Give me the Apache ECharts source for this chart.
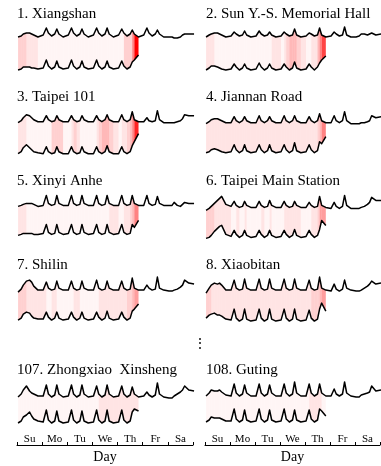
<!DOCTYPE html>
<html><head><meta charset="utf-8">
<script src="https://cdn.jsdelivr.net/npm/echarts@6/dist/echarts.min.js"></script>
<style>html,body{margin:0;padding:0;background:#fff}#c{width:381px;height:466px}</style>
</head><body><div id="c"></div>
<script>
const dayLabels = ['Su','Mo','Tu','We','Th','Fr','Sa'];
const sampleHours = [1, 4, 6, 9, 12, 14, 16, 20];
const stationNames = ['1. Xiangshan','2. Sun Y.-S. Memorial Hall','3. Taipei 101','4. Jiannan Road','5. Xinyi Anhe','6. Taipei Main Station','7. Shilin','8. Xiaobitan','107. Zhongxiao  Xinsheng','108. Guting'];

// top trace: Su..Sa (8 samples per day) + closing point; bottom trace: Su..Th
const xiangshanTop = [3,4,6,7,7,6,5,3, 5,12,7,4,6,11,6,3, 5,12,7,4,6,11,6,3, 5,12,7,4,6,12,6,3, 5,11,7,4,6,10,6,3, 5,12,7,4,6,10,6,3, 3,3,2,2,3,5,6,6, 6];
const xiangshanBottom = [2,3,5,5,5,4,4,3, 4,12,6,3,5,11,5,3, 4,12,6,3,5,11,5,3, 4,12,6,3,5,11,5,3, 4,11,6,3,5,10,12,17];
const xiangshanWeight = [3,3,3,2,2,2,2,1, 1,1,1,1,1,1,1,1, 1,1,1,1,1,1,1,1, 1,1,1,1,1,1,1,1, 1,1,3,3,3,6,10];

const sunYatSenTop = [3,5,6,7,7,6,5,3, 4,8,6,4,5,9,5,3, 4,9,6,4,5,8,5,3, 4,8,6,4,5,11,5,3, 4,7,6,4,5,12,5,3, 4,8,6,4,5,13,5,3, 3,4,6,6,5,6,7,5, 6];
const sunYatSenBottom = [2,4,6,6,5,4,3,2, 3,8,5,2,4,8,4,2, 3,9,5,2,4,8,4,2, 3,8,5,2,4,10,4,2, 3,8,5,2,5,9,12,16];
const sunYatSenWeight = [2,2,2,1,1,1,1,1, 1,1,1,1,1,1,1,1, 1,1,1,1,1,1,2,2, 1,2,3,4,4,4,3,2, 1,1,2,2,4,6,8];

const taipei101Top = [1,3,6,9,8,6,4,2, 2,8,4,2,3,8,4,2, 2,8,4,2,3,8,4,2, 2,8,4,2,4,9,4,2, 2,9,4,2,4,12,4,2, 2,6,3,2,3,13,4,1, 1,1,1,2,3,5,9,8, 8];
const taipei101Bottom = [2,4,8,11,8,6,4,3, 2,9,4,2,3,9,4,2, 2,9,4,2,3,9,4,2, 2,9,4,2,4,10,4,2, 2,9,4,2,4,10,14,22];
const taipei101Weight = [2,2,2,1,1,1,1,1, 1,1,1,3,3,3,3,1, 1,2,3,2,1,1,1,1, 1,2,3,4,4,4,3,2, 1,2,2,3,4,6,9];

const jiannanTop = [0,2,4,5,5,4,3,1, 1,7,3,1,3,7,3,1, 1,8,3,1,3,7,3,1, 1,8,3,1,3,8,3,1, 1,7,3,1,3,10,3,1, 1,8,3,1,3,12,3,0, 0,0,1,1,2,3,8,6, 7];
const jiannanBottom = [3,4,6,7,6,5,4,3, 4,11,6,3,5,11,5,3, 4,11,6,3,5,11,5,3, 4,11,6,3,5,13,5,3, 4,11,6,3,5,14,12,19];
const jiannanWeight = [2,2,2,2,2,2,2,2, 2,2,2,2,2,2,2,2, 2,2,2,2,2,2,2,2, 2,2,2,2,2,2,2,2, 2,2,2,2,3,4,6];

const xinyiAnheTop = [1,2,3,4,4,4,3,1, 2,12,4,2,3,12,4,2, 2,12,4,2,3,12,4,2, 2,12,4,2,3,12,4,2, 2,12,4,2,3,12,4,2, 2,12,4,2,3,11,4,2, 2,2,5,2,1,3,5,4, 4];
const xinyiAnheBottom = [4,5,6,6,6,6,5,5, 6,15,7,5,6,15,7,5, 6,15,7,5,6,15,7,5, 6,15,7,5,6,15,7,5, 6,15,7,5,6,15,12,19];
const xinyiAnheWeight = [2,2,2,1,1,1,1,1, 1,1,1,1,1,1,1,1, 1,1,1,1,1,1,1,1, 1,1,1,1,1,1,2,2, 1,1,2,2,3,4,6];

const mainStationTop = [-3,-1,1,4,7,9,11,3, 1,6,2,0,1,6,2,0, 0,6,2,0,1,7,2,0, 0,6,2,0,1,6,2,0, 0,5,2,0,1,11,2,0, -1,5,1,-1,1,12,2,-1, -1,-1,0,1,3,5,10,7, 7];
const mainStationBottom = [1,2,4,8,11,13,14,5, 3,9,5,2,4,9,4,2, 3,9,5,2,4,9,4,2, 3,9,5,2,4,10,4,2, 3,9,5,2,4,10,19,14];
const mainStationWeight = [3,3,3,2,2,2,2,2, 1,1,2,1,1,2,1,1, 1,1,2,1,1,2,1,1, 1,2,2,2,2,2,2,1, 1,1,2,2,3,5,5];

const shilinTop = [-1,2,6,10,11,9,5,1, 1,9,3,1,2,10,3,1, 1,10,3,1,2,10,3,1, 1,11,3,1,2,10,3,1, 1,10,3,1,2,13,3,1, 1,6,3,1,2,14,3,1, 0,0,1,2,4,6,11,8, 7];
const shilinBottom = [3,5,9,11,10,7,5,4, 4,11,6,3,5,11,5,3, 4,11,6,3,5,11,5,3, 4,11,6,3,5,12,5,3, 4,11,6,3,5,12,14,19];
const shilinWeight = [3,3,3,2,2,2,2,2, 2,1,1,2,2,1,1,1, 1,1,2,2,1,1,1,1, 1,1,2,2,2,2,2,2, 2,2,2,3,3,4,5];

const xiaobitanTop = [-2,3,6,8,7,8,6,1, 1,11,3,1,2,12,3,1, 1,12,3,1,2,12,3,1, 1,12,3,1,2,12,3,1, 1,11,3,1,2,14,3,1, 0,7,2,0,2,11,3,1, 0,0,1,3,5,7,10,7, 8];
const xiaobitanBottom = [5,8,9,10,8,8,7,4, 3,14,5,2,4,14,4,2, 3,14,5,2,4,14,4,2, 3,14,5,2,4,14,4,2, 3,13,5,2,4,14,20,12];
const xiaobitanWeight = [3,3,2,2,2,2,2,2, 2,2,2,2,2,2,2,2, 2,2,2,2,2,2,2,2, 2,2,2,2,2,2,2,2, 2,2,3,3,3,4,5];

const zhongxiaoTop = [3,6,10,14,9,7,6,4, 4,15,6,3,5,15,6,3, 4,15,6,3,5,15,6,3, 4,14,6,3,5,15,6,3, 4,14,6,3,5,13,6,3, 4,8,5,3,5,17,6,3, 2,2,4,6,8,10,14,10, 9];
const zhongxiaoBottom = [3,5,9,11,14,10,7,5, 4,16,6,3,5,15,5,3, 4,16,6,3,5,15,5,3, 4,16,6,3,5,16,5,3, 4,16,6,3,5,14,17,15];
const zhongxiaoWeight = [1,1,1,1,1,1,1,1, 1,1,1,1,1,1,1,1, 1,1,1,1,1,1,1,1, 1,1,2,2,2,2,2,2, 2,2,2,2,2,2,2];

const gutingTop = [4,7,10,9,9,10,8,5, 4,16,7,4,6,15,7,4, 4,16,7,4,6,15,7,4, 4,16,7,4,6,18,7,4, 4,16,7,4,6,16,7,4, 4,11,6,4,6,18,7,4, 3,3,5,6,7,8,14,9, 10];
const gutingBottom = [4,6,9,8,8,8,7,5, 5,17,7,4,6,16,6,4, 5,17,7,4,6,16,6,4, 5,17,7,4,6,16,6,4, 5,16,7,4,6,17,15,10];
const gutingWeight = [1,1,1,1,1,1,1,1, 1,1,1,1,1,1,1,1, 1,1,1,1,1,1,1,1, 1,1,1,1,1,1,1,1, 1,2,2,2,2,2,1];

const panels = [
  {name: stationNames[0], top: xiangshanTop, bottom: xiangshanBottom, weight: xiangshanWeight},
  {name: stationNames[1], top: sunYatSenTop, bottom: sunYatSenBottom, weight: sunYatSenWeight},
  {name: stationNames[2], top: taipei101Top, bottom: taipei101Bottom, weight: taipei101Weight},
  {name: stationNames[3], top: jiannanTop, bottom: jiannanBottom, weight: jiannanWeight},
  {name: stationNames[4], top: xinyiAnheTop, bottom: xinyiAnheBottom, weight: xinyiAnheWeight},
  {name: stationNames[5], top: mainStationTop, bottom: mainStationBottom, weight: mainStationWeight},
  {name: stationNames[6], top: shilinTop, bottom: shilinBottom, weight: shilinWeight},
  {name: stationNames[7], top: xiaobitanTop, bottom: xiaobitanBottom, weight: xiaobitanWeight},
  {name: stationNames[8], top: zhongxiaoTop, bottom: zhongxiaoBottom, weight: zhongxiaoWeight},
  {name: stationNames[9], top: gutingTop, bottom: gutingBottom, weight: gutingWeight}
];

const FONT = '"Liberation Serif", "Times New Roman", "DejaVu Serif", serif';
const timeOf = i => Math.floor(i / sampleHours.length) + sampleHours[i % sampleHours.length] / 24;
const alphaOf = w => Math.pow(w / 10, 1.4);

const grids = [], xAxes = [], yAxes = [], series = [], graphics = [];
const titleY = [14, 97.5, 181, 265, 370];

panels.forEach((p, g) => {
  const col = g % 2, row = Math.floor(g / 2);
  const left = col ? 205 : 17, width = col ? 175 : 176;
  const base = row < 4 ? 72 + 83.7 * row : 426;
  const lane = row < 4 ? 32 : 26;
  grids.push({left: left, width: width, top: base - 50, height: 55});
  xAxes.push({type: 'value', gridIndex: g, min: 0, max: 7, show: false});
  yAxes.push({type: 'value', gridIndex: g, min: -5, max: 50, show: false});
  graphics.push({type: 'text', x: col ? 206 : 17, y: titleY[row],
    style: {text: p.name, font: '15px ' + FONT, fill: '#000', verticalAlign: 'middle', align: 'left'}});
  series.push({
    type: 'custom', xAxisIndex: g, yAxisIndex: g, silent: true, clip: false, z: 1,
    data: p.weight.map((w, k) => [timeOf(k), p.bottom[k], k]),
    encode: {x: 0, y: 1},
    renderItem: (params, api) => {
      const k = api.value(2);
      const x0 = timeOf(k), x1 = timeOf(k + 1);
      const pts = [api.coord([x0, p.top[k] + lane]), api.coord([x1, p.top[k + 1] + lane]),
                   api.coord([x1, p.bottom[k + 1]]), api.coord([x0, p.bottom[k]])];
      return {type: 'polygon', shape: {points: pts},
              style: {fill: 'rgba(255,0,0,' + alphaOf(p.weight[k]).toFixed(3) + ')', stroke: null}};
    }
  });
  const lineStyle = {color: '#000', width: 1.5, join: 'round'};
  series.push({type: 'line', xAxisIndex: g, yAxisIndex: g, silent: true, clip: false, z: 3,
    symbol: 'none', data: p.top.map((v, i) => [timeOf(i), v + lane]), lineStyle: lineStyle});
  series.push({type: 'line', xAxisIndex: g, yAxisIndex: g, silent: true, clip: false, z: 3,
    symbol: 'none', data: p.bottom.map((v, i) => [timeOf(i), v]), lineStyle: lineStyle});
});

[8, 9].forEach(g => xAxes.push({
  type: 'category', gridIndex: g, data: dayLabels, position: 'bottom', offset: 14, boundaryGap: true,
  axisLine: {show: true, lineStyle: {color: '#000', width: 1}},
  axisTick: {show: true, inside: true, length: 3, interval: 0, lineStyle: {color: '#000'}},
  axisLabel: {inside: true, margin: 0, interval: 0, fontFamily: FONT, fontSize: 11, color: '#000'},
  splitLine: {show: false},
  name: 'Day', nameLocation: 'middle', nameGap: 5,
  nameTextStyle: {fontFamily: FONT, fontSize: 14, color: '#000', verticalAlign: 'top'}
}));

graphics.push({type: 'text', x: 200, y: 344,
  style: {text: '⋮', font: '14px ' + FONT, fill: '#000', verticalAlign: 'middle', align: 'center'}});

const chart = echarts.init(document.getElementById('c'), null, {renderer: 'canvas'});
chart.setOption({
  animation: false,
  backgroundColor: '#fff',
  grid: grids, xAxis: xAxes, yAxis: yAxes, series: series, graphic: graphics
});
</script></body></html>
